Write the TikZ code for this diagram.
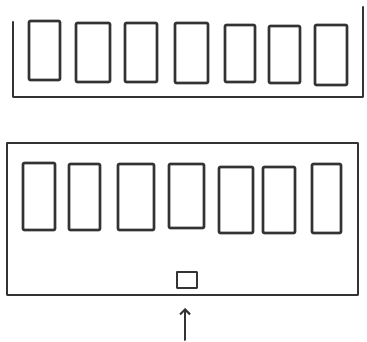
\documentclass[tikz,border=0pt]{standalone}
\usetikzlibrary{arrows.meta}
\begin{document}
\begin{tikzpicture}[x=1pt,y=-1pt,
  sk/.style={draw=black!80,line width=2.6pt,line join=round,line cap=round},
  cell/.style={sk,rounded corners=1pt}]
\useasboundingbox (0,0) rectangle (367,342);
% top tray (open top)
\draw[sk] (13,22) -- (13,97) -- (363,97) -- (363,7);
\foreach \a/\b/\c/\d in {29/21/60/80, 76/23/110/82, 125/23/157/82, 175/23/208/83, 225/25/255/82, 269/26/300/83, 315/25/347/85}
  \draw[cell] (\a,\b) rectangle (\c,\d);
% bottom box
\draw[sk] (7,143) rectangle (358,295);
\foreach \a/\b/\c/\d in {23/163/55/230, 69/164/100/230, 118/164/154/230, 169/164/204/228, 219/167/253/233, 263/167/295/233, 312/164/341/233}
  \draw[cell] (\a,\b) rectangle (\c,\d);
\draw[sk,line width=2.2pt] (177,272) rectangle (197,288);
% arrow
\coordinate (atail) at (185,340);
\coordinate (ahead) at (185,308);
\draw[sk,line width=2pt,-{Straight Barb[length=5pt,width=10pt]}] (atail) -- (ahead);
\end{tikzpicture}
\end{document}
